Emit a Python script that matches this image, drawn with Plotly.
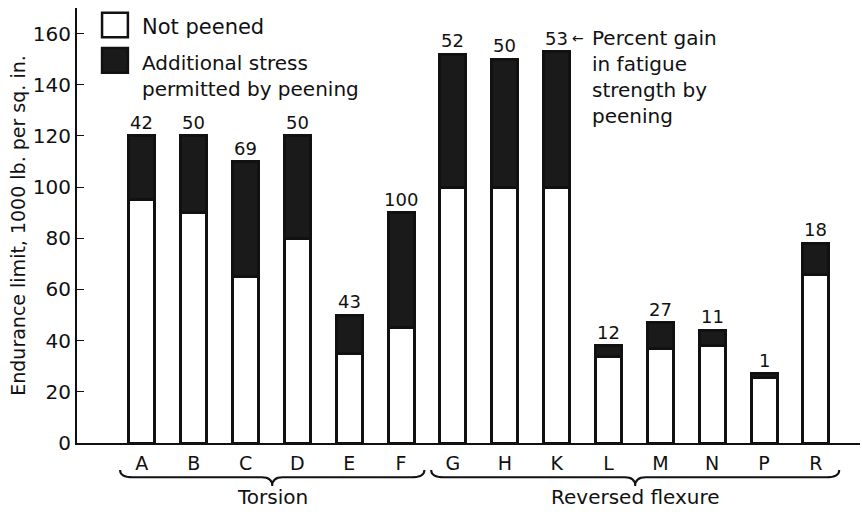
import plotly.graph_objects as go

categories = ["A", "B", "C", "D", "E", "F", "G", "H", "K", "L", "M", "N", "P", "R"]
not_peened = [95, 90, 65, 80, 35, 45, 100, 100, 100, 34, 37, 38, 25.5, 66]
total_peened = [120, 120, 110, 120, 50, 90, 152, 150, 153, 38, 47, 44, 27, 78]
percent_gain = ["42", "50", "69", "50", "43", "100", "52", "50", "53", "12", "27", "11", "1", "18"]
groups = [("Torsion", 0, 5), ("Reversed flexure", 6, 13)]
y_ticks = [0, 20, 40, 60, 80, 100, 120, 140, 160]

additional = [t - n for t, n in zip(total_peened, not_peened)]
xs = list(range(len(categories)))

FONT = "DejaVu Sans, sans-serif"
INK = "#111111"

fig = go.Figure()
fig.add_trace(go.Bar(x=xs, y=not_peened, width=0.5, name="Not peened",
                     marker=dict(color="white", line=dict(color=INK, width=3)),
                     showlegend=False))
fig.add_trace(go.Bar(x=xs, y=additional, width=0.5, name="Additional stress permitted by peening",
                     marker=dict(color="#1a1a1a", line=dict(color=INK, width=3)),
                     showlegend=False))

# percent gain labels
for x, t, p in zip(xs, total_peened, percent_gain):
    fig.add_annotation(x=x, y=t, text=p, showarrow=False, yanchor="bottom", yshift=1,
                       font=dict(family=FONT, size=18, color=INK))

# note for percent gain
fig.add_annotation(x=8, y=total_peened[8], text="←", showarrow=False, xanchor="left",
                   yanchor="bottom", xshift=13, yshift=4, font=dict(family=FONT, size=14, color=INK))
fig.add_annotation(x=8, y=total_peened[8], text="Percent gain<br>in fatigue<br>strength by<br>peening",
                   showarrow=False, xanchor="left", yanchor="top", align="left", xshift=33, yshift=28,
                   font=dict(family=FONT, size=20, color=INK))

# legend drawn manually
fig.add_shape(type="rect", xref="paper", yref="paper", x0=0.032, x1=0.065, y0=0.933, y1=0.989,
              line=dict(color=INK, width=2.5), fillcolor="white")
fig.add_shape(type="rect", xref="paper", yref="paper", x0=0.032, x1=0.065, y0=0.851, y1=0.908,
              line=dict(color=INK, width=2.5), fillcolor="#1a1a1a")
fig.add_annotation(xref="paper", yref="paper", x=0.08, y=0.956, text="Not peened", showarrow=False,
                   xanchor="left", yanchor="middle", font=dict(family=FONT, size=21, color=INK))
fig.add_annotation(xref="paper", yref="paper", x=0.08, y=0.905, text="Additional stress<br>permitted by peening",
                   showarrow=False, xanchor="left", yanchor="top", align="left",
                   font=dict(family=FONT, size=20, color=INK))

# group braces and labels
for name, i0, i1 in groups:
    a = i0 - 0.42
    b = i1 + 0.45
    m = (a + b) / 2
    yt, yh, yp = -0.062, -0.079, -0.099
    path = (f"M {a},{yt} Q {a},{yh} {a+0.25},{yh} L {m-0.2},{yh} Q {m},{yh} {m},{yp} "
            f"Q {m},{yh} {m+0.2},{yh} L {b-0.25},{yh} Q {b},{yh} {b},{yt}")
    fig.add_shape(type="path", xref="x", yref="paper", path=path, line=dict(color=INK, width=2))
    fig.add_annotation(x=m, y=-0.125, xref="x", yref="paper", text=name, showarrow=False,
                       yanchor="middle", font=dict(family=FONT, size=20, color=INK))

fig.update_layout(
    barmode="stack",
    width=863, height=512,
    margin=dict(l=77, r=3, t=8, b=69),
    paper_bgcolor="white", plot_bgcolor="white",
    bargap=0.5,
    font=dict(family=FONT, color=INK),
)
fig.update_xaxes(range=[-1.25, 13.85], tickmode="array", tickvals=xs, ticktext=categories,
                 showline=True, linecolor=INK, linewidth=2, showgrid=False, zeroline=False,
                 ticks="", tickfont=dict(family=FONT, size=19, color=INK), ticklabelstandoff=2,
                 automargin=False)
fig.update_yaxes(range=[0, 170], tickmode="array", tickvals=y_ticks,
                 showline=True, linecolor=INK, linewidth=2, showgrid=False, zeroline=False,
                 ticks="inside", ticklen=7, tickcolor=INK, tickwidth=1,
                 tickfont=dict(family=FONT, size=20, color=INK), automargin=False,
                 title=dict(text="Endurance limit, 1000 lb. per sq. in.", standoff=2,
                            font=dict(family=FONT, size=19, color=INK)))

fig.write_html("out.html", config={"displayModeBar": False},
               post_script="document.body.style.margin='0';document.body.style.padding='0';")
